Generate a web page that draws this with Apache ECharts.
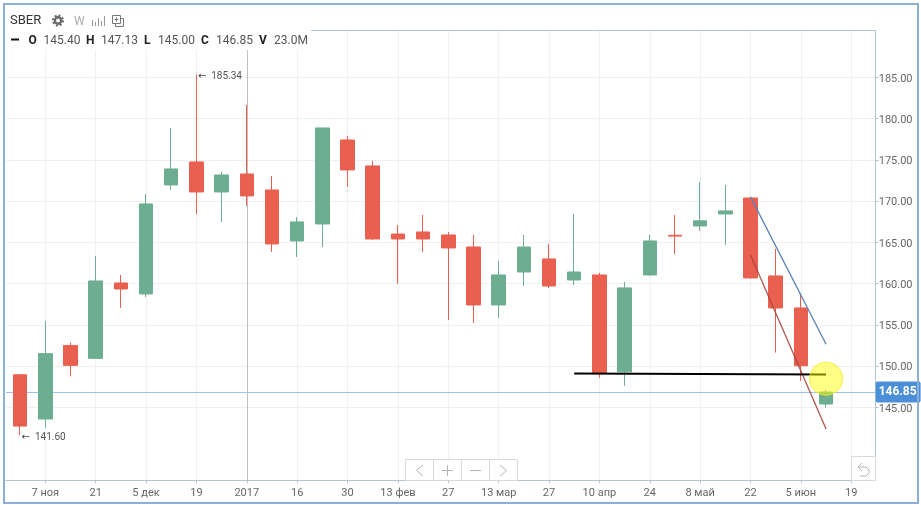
<!DOCTYPE html>
<html>
<head>
<meta charset="utf-8">
<style>html,body{margin:0;padding:0;background:#fff}#c{width:921px;height:505px}</style>
<script src="https://cdn.jsdelivr.net/npm/echarts@6/dist/echarts.min.js"></script>
</head>
<body>
<div id="c"></div>
<script>
// week index of each candle
const weeks = [0,1,2,3,4,5,6,7,8,9,10,11,12,13,14,15,16,17,18,19,20,21,22,23,24,25,26,27,28,29,30,31,32];
const opens  = [148.94,143.58,152.48,150.93,160.07,158.74,171.95,174.74,171.10,173.28,171.34,165.16,167.22,177.40,174.25,166.00,166.25,165.89,164.43,157.40,161.40,162.98,160.43,161.04,149.30,161.04,165.85,166.98,168.43,170.37,160.92,157.04,145.40];
const closes = [142.72,151.50,150.08,160.31,159.34,169.65,173.89,171.10,173.16,170.62,164.80,167.47,178.86,173.77,165.40,165.40,165.40,164.31,157.40,161.04,164.43,159.70,161.40,149.15,159.47,165.16,165.75,167.60,168.80,160.68,157.04,150.04,146.85];
const lows   = [141.60,142.52,148.74,150.93,157.04,158.37,171.34,168.43,167.47,169.40,163.83,163.22,164.43,171.70,165.28,159.95,163.83,155.60,155.22,155.83,159.70,159.47,159.83,148.58,147.60,160.92,163.58,166.37,164.68,160.56,151.63,148.20,145.00];
const highs  = [148.94,155.46,152.85,163.34,161.04,170.86,178.86,185.34,173.52,181.65,173.04,168.07,178.86,177.89,174.86,167.10,168.30,166.25,165.89,162.74,165.89,164.80,168.43,161.30,160.19,165.89,168.30,172.30,171.95,170.37,164.20,158.74,147.13];

const xTickValues = [1,3,5,7,9,11,13,15,17,19,21,23,25,27,29,31,33];
const xTickLabels = ['7 ноя','21','5 дек','19','2017','16','30','13 фев','27','13 мар','27','10 апр','24','8 май','22','5 июн','19'];
const yTickValues = [145,150,155,160,165,170,175,180,185];

const blueTrend  = [[29,170.5],[32,152.64]];
const redTrend   = [[29,163.46],[32,142.36]];
const blackLevel = [[22,149.1],[32,148.98]];
const marker     = [[32,148.47]];
const lastPrice  = 146.85;
const yearWeek   = 9;
const maxMark = [7,185.34];
const minMark = [0,141.60];

const header = [['O','145.40',28.5,43.5],['H','147.13',86,101],['L','145.00',144,158],['C','146.85',201,216],['V','23.0M',259,274]];

const RED='#ea6050', GREEN='#6dae90', FONT='Roboto, Arial, sans-serif';
const T=(x,y,text,size,color,weight,extra)=>({type:'text',z:100,x,y,style:Object.assign({text,fill:color,font:(weight||'normal')+' '+size+'px '+FONT,textVerticalAlign:'middle',textBaseline:'middle'},extra||{})});
const L=(x1,y1,x2,y2,c,w)=>({type:'line',z:100,shape:{x1,y1,x2,y2},style:{stroke:c,lineWidth:w||1}});
const R=(x,y,w,h,c,f)=>({type:'rect',z:100,shape:{x,y,width:w,height:h},style:{stroke:c,fill:f||'#fff',lineWidth:1}});
const P=(pts,c,w)=>({type:'polyline',z:101,shape:{points:pts},style:{stroke:c,fill:null,lineWidth:w||1}});

const BTN='#d9d9d9', ICON='#b5b5b5';
const gfx=[
  {type:'rect',z:99,shape:{x:6,y:12,width:306,height:38},style:{fill:'#fff'}},
  L(311,30.5,876,30.5,'#b0c4d4'),
  {type:'rect',z:120,silent:true,shape:{x:4,y:4,width:914,height:499},style:{fill:null,stroke:'#8cafd6',lineWidth:2}},
  T(10,21,'SBER',13,'#333'),
  {type:'circle',z:100,shape:{cx:58,cy:20.5,r:3.2},style:{fill:'#fff',stroke:'#6a6a6a',lineWidth:2.4}},
  {type:'circle',z:100,shape:{cx:58,cy:20.5,r:5},style:{fill:null,stroke:'#6a6a6a',lineWidth:2,lineDash:[2,1.9]}},
  T(74,22,'W',12,'#aaa'),
  L(92.5,20,92.5,26,'#999'),L(95.5,22,95.5,26,'#999'),L(98.5,18,98.5,26,'#999'),L(101.5,21,101.5,26,'#999'),L(104.5,16,104.5,26,'#999'),
  R(115.5,18.5,8,8,'#777'),
  R(112.5,15.5,8,8,'#777'),
  L(114.5,19.5,118.5,19.5,'#777'),L(116.5,17.5,116.5,21.5,'#777'),
  L(11,39.5,19,39.5,'#111',2)
];
header.forEach(h=>{gfx.push(T(h[2],40.5,h[0],12,'#222','bold'));gfx.push(T(h[3],40.5,h[1],12,'#555'));});
// navigation buttons
gfx.push(
  R(405.5,459.5,112,21,BTN),
  L(433.5,459.5,433.5,480.5,BTN),L(461.5,459.5,461.5,480.5,BTN),L(489.5,459.5,489.5,480.5,BTN),
  P([[423,465],[416.5,470.5],[423,476]],ICON),
  L(442,470.5,453,470.5,ICON),L(447.5,465,447.5,476,ICON),
  L(470,470.5,481,470.5,ICON),
  P([[500,465],[506.5,470.5],[500,476]],ICON),
  R(851.5,456.5,24,24,BTN),
  P([[862,463],[858,467],[862,471]],ICON),
  P([[858,467],[866,467],[869,470],[869,473],[866,476],[860,476]],ICON)
);

const candles = weeks.map((w,i)=>[w,opens[i],closes[i],lows[i],highs[i]]);
const tag={show:true,position:'right',distance:1,offset:[0,2],color:'#555',fontSize:10,fontFamily:FONT,
  rich:{a:{fontFamily:'DejaVu Sans',fontSize:10,color:'#444'}}};
const trend=(name,data,color,width,op)=>({name,type:'line',data,z:5,symbol:'none',showSymbol:false,silent:true,animation:false,lineStyle:{color,width,opacity:op}});

const chart=echarts.init(document.getElementById('c'),null,{renderer:'canvas'});
chart.setOption({
  animation:false,
  backgroundColor:'#fff',
  grid:{left:6,right:45.3,top:30.5,bottom:24.7,containLabel:false},
  xAxis:{type:'value',min:-0.56,max:33.97,
    axisLine:{show:true,onZero:false,lineStyle:{color:'#b0c4d4',width:1}},
    axisTick:{show:true,length:3,customValues:xTickValues,lineStyle:{color:'#b0c4d4'}},
    axisLabel:{show:true,customValues:xTickValues,margin:7,fontSize:11,fontFamily:FONT,hideOverlap:false,
      showMinLabel:true,showMaxLabel:true,
      formatter:v=>xTickLabels[xTickValues.indexOf(v)],
      color:v=>v===yearWeek?'#333':'#666'},
    splitLine:{show:true,lineStyle:{color:'#f0f0f0',width:1}}},
  yAxis:{type:'value',position:'right',min:136.15,max:190.67,scale:true,
    axisLine:{show:true,onZero:false,lineStyle:{color:'#b0c4d4',width:1}},
    axisTick:{show:true,length:3,customValues:yTickValues,lineStyle:{color:'#b0c4d4'}},
    axisLabel:{show:true,customValues:yTickValues,margin:3,fontSize:11,fontFamily:FONT,color:'#666',
      rich:{a:{fontSize:11,fontFamily:FONT,color:'#666',padding:[3,0,0,0]}},
      formatter:v=>'{a|'+v.toFixed(2)+'}'},
    splitLine:{show:true,lineStyle:{color:'#f0f0f0',width:1}}},
  graphic:gfx,
  series:[
    {name:'SBER',type:'candlestick',data:candles,encode:{x:0,y:[1,2,3,4]},barWidth:14,z:3,silent:true,
      itemStyle:{color:GREEN,color0:RED,borderColor:GREEN,borderColor0:RED,borderWidth:1},
      markLine:{silent:true,symbol:'none',animation:false,z:1,
        data:[
          {xAxis:yearWeek,lineStyle:{color:'#c0c0c0',width:1,type:'solid'},label:{show:false}},
          {yAxis:lastPrice,lineStyle:{color:'#9cc4ea',width:1,type:'solid'},
           label:{show:true,position:'end',distance:0,formatter:lastPrice.toFixed(2),color:'#fff',fontWeight:'bold',fontSize:12,fontFamily:FONT,
                  backgroundColor:'#4a8fd8',padding:[6,4,3,3],borderRadius:2}}
        ]},
      markPoint:{silent:true,symbol:'circle',symbolSize:1,itemStyle:{color:'rgba(0,0,0,0)'},animation:false,
        data:[
          {coord:maxMark,label:Object.assign({},tag,{formatter:'{a|←}  '+maxMark[1].toFixed(2)})},
          {coord:minMark,label:Object.assign({},tag,{formatter:'{a|←}  '+minMark[1].toFixed(2)})}
        ]}
    },
    trend('blue',blueTrend,'#5b82b8',1.3,1),
    trend('red',redTrend,'#a8423c',1.3,0.9),
    trend('level',blackLevel,'#000',2,1),
    {name:'marker',type:'scatter',data:marker,z:6,symbol:'circle',symbolSize:33,silent:true,animation:false,
      itemStyle:{color:'rgba(255,255,0,0.6)',borderColor:'#f5e820',borderWidth:1}}
  ]
});
</script>
</body>
</html>
